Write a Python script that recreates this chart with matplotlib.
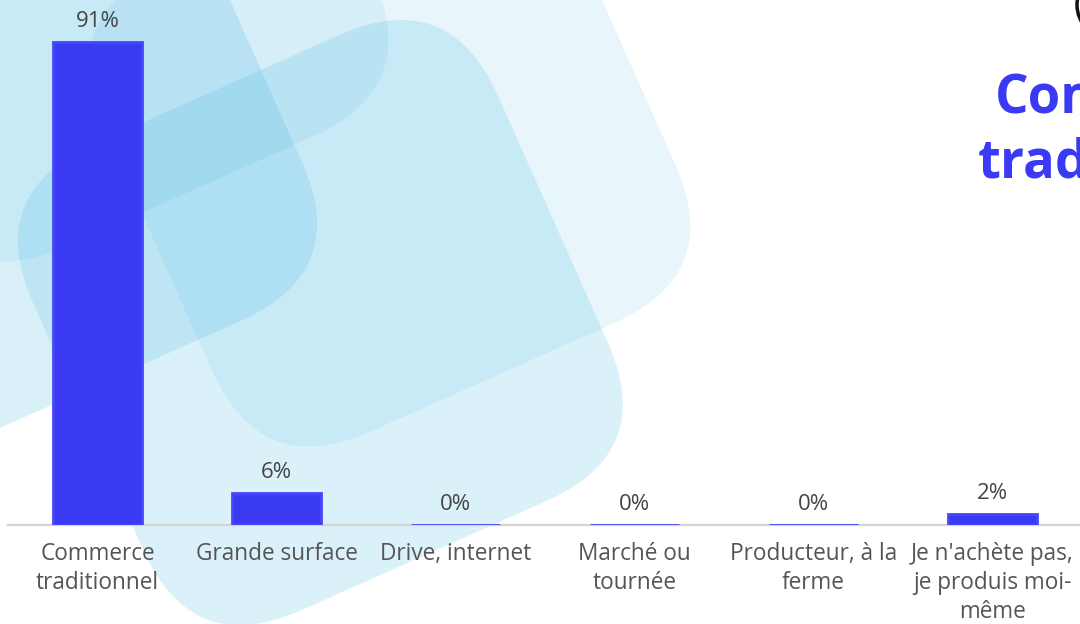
import matplotlib
matplotlib.use("Agg")
import matplotlib.pyplot as plt
from matplotlib.patches import FancyBboxPatch, Circle
from matplotlib.transforms import Affine2D

# ---- data ----
categories = ["Commerce\ntraditionnel", "Grande surface", "Drive, internet",
              "Marché ou\ntournée", "Producteur, à la\nferme",
              "Je n'achète pas,\nje produis moi-\nmême"]
values = [91, 6, 0, 0, 0, 2]
value_labels = ["91%", "6%", "0%", "0%", "0%", "2%"]
title_lines = ["Commerce", "traditionnel"]

FONT = ["Open Sans", "DejaVu Sans"]
plt.rcParams["font.family"] = FONT

W, H = 1080, 624
fig = plt.figure(figsize=(W / 100, H / 100), dpi=100)
fig.patch.set_facecolor("white")

# ---- decorative background (pixel coordinates, y downwards) ----
bg = fig.add_axes([0, 0, 1, 1], zorder=0)
bg.set_xlim(0, W)
bg.set_ylim(H, 0)
bg.axis("off")
rot = Affine2D().rotate_deg(-24) + bg.transData
shape_base = "#3cb4e0"
# (u0, v0, width, height, radius, alpha) in rotated frame
shapes = [
    (-300, -119, 510, 510, 120, 0.19),   # C
    (-160, -258, 510, 510, 120, 0.11),   # B
    (43, 38, 507, 507, 120, 0.115),      # A
    (-93, 170, 509, 510, 120, 0.18),     # E
]
for u0, v0, w, h, r, a in shapes:
    p = FancyBboxPatch((u0, v0), w, h,
                       boxstyle=f"round,pad=0,rounding_size={r}",
                       facecolor=shape_base, edgecolor="none", alpha=a,
                       transform=rot)
    bg.add_patch(p)
bg.add_patch(Circle((1110, 5), 33, facecolor="none", edgecolor="#111111",
                    lw=2.5, transform=bg.transData))

# ---- title (partially cut, as in the reference) ----
title_color = "#3a3af5"
fig.text(995 / W, 1 - 114 / H, title_lines[0], color=title_color,
         fontsize=38, fontweight="bold", ha="left", va="baseline")
fig.text(978 / W, 1 - 177 / H, title_lines[1], color=title_color,
         fontsize=38, fontweight="bold", ha="left", va="baseline")

# ---- bar chart ----
ax = fig.add_axes([8 / W, 99 / H, 1074 / W, 525 / H], zorder=1)
ax.patch.set_alpha(0)
x = list(range(len(categories)))
bars = ax.bar(x, values, width=0.5, color="#3a3af5", edgecolor="#4646fa",
              linewidth=2.0, zorder=3)
ax.set_xlim(-0.5, len(categories) - 0.5)
ax.set_ylim(0, 98.9)
for xi, v, lab in zip(x, values, value_labels):
    ax.annotate(lab, (xi, v), xytext=(0, 7.5), textcoords="offset points",
                ha="center", va="bottom", fontsize=16, color="#444444")
ax.set_xticks(x)
ax.set_xticklabels(categories, fontsize=16.3, color="#555555", linespacing=1.3)
ax.tick_params(axis="x", length=0, pad=12)
ax.set_yticks([])
for s in ["top", "right", "left"]:
    ax.spines[s].set_visible(False)
ax.spines["bottom"].set_color("#d4d4d4")
ax.spines["bottom"].set_linewidth(1.6)
ax.spines["bottom"].set_zorder(1)

fig.savefig("out.png", dpi=100)
